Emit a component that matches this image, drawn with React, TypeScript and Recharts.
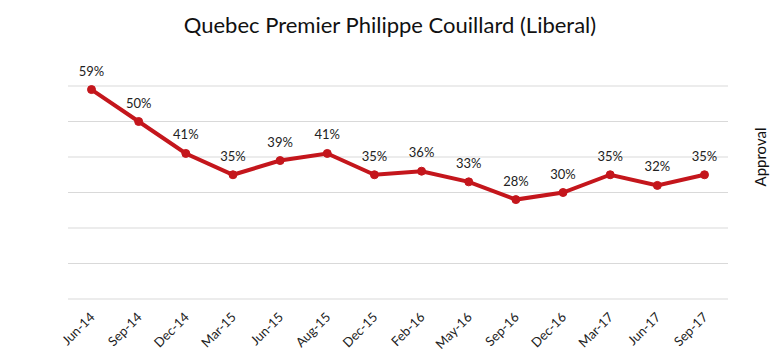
import { LineChart, Line, XAxis, YAxis, CartesianGrid, LabelList } from 'recharts';

const months = [
  'Jun-14', 'Sep-14', 'Dec-14', 'Mar-15', 'Jun-15', 'Aug-15', 'Dec-15',
  'Feb-16', 'May-16', 'Sep-16', 'Dec-16', 'Mar-17', 'Jun-17', 'Sep-17',
];
const approval = [59, 50, 41, 35, 39, 41, 35, 36, 33, 28, 30, 35, 32, 35];
const yTicks = [0, 10, 20, 30, 40, 50, 60];
const edgeTicks = [0, 1, 2, 3, 4, 5, 6, 7, 8, 9, 10, 11, 12, 13, 14];

const data = months.map((m, i) => ({ month: m, value: approval[i] }));

const FONT = 'Lato, "Open Sans", sans-serif';
const RED = '#c4161c';

function MonthTick({ x, y, payload }: any) {
  return (
    <text
      x={x + 4}
      y={y + 11}
      transform={`rotate(-45, ${x + 4}, ${y + 11})`}
      textAnchor="end"
      fontSize={13}
      fontFamily={FONT}
      fill="#222"
    >
      {payload.value}
    </text>
  );
}

export default function App() {
  return (
    <div style={{ position: 'absolute', left: 0, top: 0, width: 780, height: 360, background: '#fff' }}>
      <div
        style={{
          position: 'absolute',
          top: 11,
          left: 0,
          width: 780,
          textAlign: 'center',
          fontFamily: FONT,
          fontSize: 22,
          color: '#111',
        }}
      >
        Quebec Premier Philippe Couillard (Liberal)
      </div>
      <div
        style={{
          position: 'absolute',
          left: 760,
          top: 157,
          transform: 'translate(-50%, -50%) rotate(-90deg)',
          fontFamily: FONT,
          fontSize: 15,
          color: '#111',
          whiteSpace: 'nowrap',
        }}
      >
        Approval
      </div>
      <LineChart
        width={780}
        height={360}
        data={data}
        margin={{ top: 86, right: 52, left: 68, bottom: 6 }}
      >
        <CartesianGrid stroke="#d9d9d9" vertical={false} />
        <XAxis
          xAxisId="edges"
          type="number"
          domain={[0, 14]}
          ticks={edgeTicks}
          tick={false}
          tickSize={5}
          height={0}
          stroke="#d9d9d9"
          allowDataOverflow
        />
        <XAxis
          xAxisId="cat"
          dataKey="month"
          interval={0}
          axisLine={false}
          tickLine={false}
          tick={<MonthTick />}
          padding={{ left: 23.5, right: 23.5 }}
          height={55}
        />
        <YAxis hide domain={[0, 60]} ticks={yTicks} />
        <Line
          xAxisId="cat"
          dataKey="value"
          stroke={RED}
          strokeWidth={4}
          dot={{ r: 4, fill: RED, stroke: RED, strokeWidth: 1 }}
          isAnimationActive={false}
        >
          <LabelList
            dataKey="value"
            position="top"
            offset={14}
            formatter={(v: any) => `${v}%`}
            style={{ fontSize: 13, fontFamily: FONT, fill: '#222' }}
          />
        </Line>
      </LineChart>
    </div>
  );
}
